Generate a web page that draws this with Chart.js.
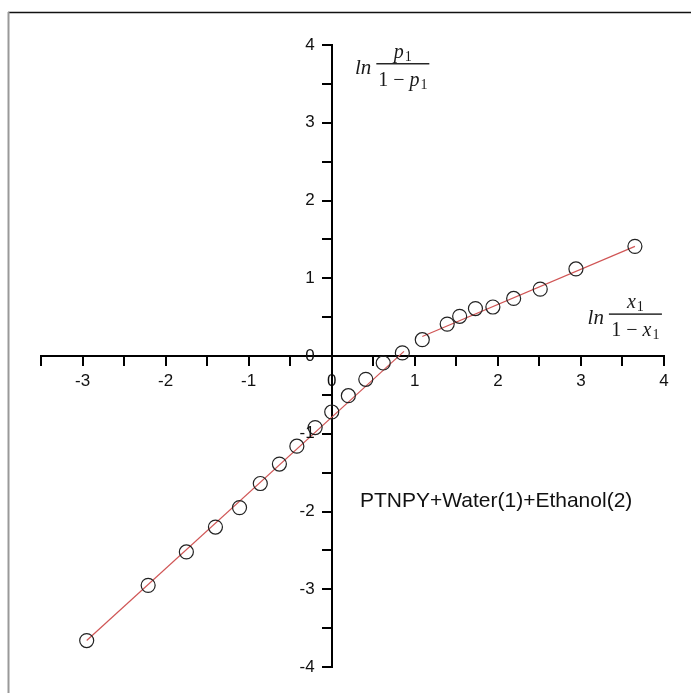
<!DOCTYPE html>
<html>
<head>
<meta charset="utf-8">
<script src="https://cdn.jsdelivr.net/npm/chart.js@4.4.1/dist/chart.umd.min.js"></script>
<style>
  html, body { margin: 0; padding: 0; background: #fff; }
  canvas { display: block; }
</style>
</head>
<body>
<canvas id="logitChart" width="691" height="693"></canvas>
<script>
// ln(x1/(1-x1)) vs ln(p1/(1-p1))
const xValues = [-2.95, -2.21, -1.75, -1.40, -1.11, -0.86, -0.63, -0.42, -0.20, 0.00,
                 0.20, 0.41, 0.62, 0.85, 1.09, 1.39, 1.54, 1.73, 1.94, 2.19, 2.51, 2.94, 3.65];
const yValues = [-3.66, -2.95, -2.52, -2.20, -1.95, -1.64, -1.39, -1.16, -0.92, -0.72,
                 -0.51, -0.30, -0.09, 0.04, 0.21, 0.41, 0.51, 0.61, 0.63, 0.74, 0.86, 1.12, 1.41];

// the two straight fits (end points)
const fitLowX = [-2.95, 0.87];
const fitLowY = [-3.66, 0.06];
const fitHighX = [1.09, 3.65];
const fitHighY = [0.25, 1.41];

const xRange = [-3.5, 4];
const yRange = [-4, 4];
const tickStep = 0.5;

const noteText = 'PTNPY+Water(1)+Ethanol(2)';

function toPoints(xs, ys) {
    return xs.map((x, i) => ({ x: x, y: ys[i] }));
}

function tickText(v) {
    return Number.isInteger(v) ? String(v) : '';
}

// draws  ln v1/(1-v1)  with the fraction bar at "bar"
function drawLogit(ctx, left, bar, v) {
    ctx.save();
    ctx.fillStyle = '#1a1a1a';
    ctx.textAlign = 'left';
    ctx.textBaseline = 'alphabetic';
    ctx.font = 'italic 21px "Liberation Serif", serif';
    ctx.fillText('ln', left, bar + 10);
    const bx0 = left + ctx.measureText('ln').width + 5;
    const bx1 = bx0 + 53;
    ctx.fillRect(bx0, bar - 0.6, bx1 - bx0, 1.4);
    const cx = (bx0 + bx1) / 2;

    const varFont = 'italic 20px "Liberation Serif", serif';
    const subFont = '14px "Liberation Serif", serif';
    const upFont = '20px "Liberation Serif", serif';

    // numerator
    ctx.font = varFont;
    const vw = ctx.measureText(v).width;
    ctx.font = subFont;
    const sw = ctx.measureText('1').width;
    let x = cx - (vw + sw + 1) / 2;
    ctx.font = varFont;
    ctx.fillText(v, x, bar - 6);
    ctx.font = subFont;
    ctx.fillText('1', x + vw + 1, bar - 3);

    // denominator
    ctx.font = upFont;
    const pre = '1 \u2212 ';
    const pw = ctx.measureText(pre).width;
    x = cx - (pw + vw + sw + 1) / 2;
    ctx.fillText(pre, x, bar + 22);
    ctx.font = varFont;
    ctx.fillText(v, x + pw, bar + 22);
    ctx.font = subFont;
    ctx.fillText('1', x + pw + vw + 1, bar + 25);
    ctx.restore();
}

const labelsPlugin = {
    id: 'labelsPlugin',
    beforeDraw(chart) {
        const ctx = chart.ctx;
        ctx.save();
        ctx.fillStyle = '#fff';
        ctx.fillRect(0, 0, chart.width, chart.height);
        // frame pieces
        ctx.strokeStyle = '#111';
        ctx.lineWidth = 1.5;
        ctx.beginPath();
        ctx.moveTo(8, 12.5);
        ctx.lineTo(chart.width, 12.5);
        ctx.stroke();
        ctx.strokeStyle = '#999';
        ctx.lineWidth = 2;
        ctx.beginPath();
        ctx.moveTo(8.5, 12);
        ctx.lineTo(8.5, chart.height);
        ctx.stroke();
        ctx.restore();
    },
    afterDraw(chart) {
        const ctx = chart.ctx;
        const xs = chart.scales.x;
        const ys = chart.scales.y;

        // y tick labels: the centred axis puts them on the line, so set them off to the left
        ctx.save();
        ctx.fillStyle = '#111';
        ctx.font = '17px "Liberation Sans", Arial, sans-serif';
        ctx.textAlign = 'right';
        ctx.textBaseline = 'middle';
        const axisX = xs.getPixelForValue(0);
        ys.ticks.forEach(t => {
            const s = tickText(t.value);
            if (s) ctx.fillText(s, axisX - 17, ys.getPixelForValue(t.value));
        });
        ctx.restore();

        drawLogit(ctx, xs.getPixelForValue(0.28), ys.getPixelForValue(3.76), 'p');
        drawLogit(ctx, xs.getPixelForValue(3.08), ys.getPixelForValue(0.54), 'x');

        ctx.save();
        ctx.fillStyle = '#111';
        ctx.font = '21px "Liberation Sans", Arial, sans-serif';
        ctx.textAlign = 'left';
        ctx.textBaseline = 'alphabetic';
        ctx.fillText(noteText, xs.getPixelForValue(0.34), ys.getPixelForValue(-1.94));
        ctx.restore();
    }
};

function axisOptions(range, pos, showLabels) {
    return {
        type: 'linear',
        min: range[0],
        max: range[1],
        position: pos,
        ticks: {
            display: showLabels,
            stepSize: tickStep,
            autoSkip: false,
            maxRotation: 0,
            color: '#111',
            padding: 6,
            font: { size: 17 },
            callback: tickText
        },
        grid: {
            drawOnChartArea: false,
            color: '#000',
            lineWidth: 2,
            tickLength: 9
        },
        border: { color: '#000', width: 2 }
    };
}

Chart.defaults.font.family = '"Liberation Sans", Arial, sans-serif';

new Chart(document.getElementById('logitChart').getContext('2d'), {
    type: 'scatter',
    data: {
        datasets: [
            {
                label: 'data',
                data: toPoints(xValues, yValues),
                pointRadius: 7,
                pointHoverRadius: 7,
                pointBorderWidth: 1.2,
                borderColor: '#222',
                backgroundColor: 'rgba(0,0,0,0)',
                order: 1
            },
            {
                label: 'fit low',
                type: 'line',
                data: toPoints(fitLowX, fitLowY),
                borderColor: '#d05555',
                borderWidth: 1.2,
                pointRadius: 0,
                fill: false,
                order: 2
            },
            {
                label: 'fit high',
                type: 'line',
                data: toPoints(fitHighX, fitHighY),
                borderColor: '#d05555',
                borderWidth: 1.2,
                pointRadius: 0,
                fill: false,
                order: 2
            }
        ]
    },
    options: {
        responsive: false,
        animation: false,
        layout: { padding: { left: 41, right: 27, top: 45, bottom: 26 } },
        plugins: {
            legend: { display: false },
            tooltip: { enabled: false }
        },
        scales: {
            x: axisOptions(xRange, { y: 0 }, true),
            y: axisOptions(yRange, { x: 0 }, false)
        }
    },
    plugins: [labelsPlugin]
});
</script>
</body>
</html>
